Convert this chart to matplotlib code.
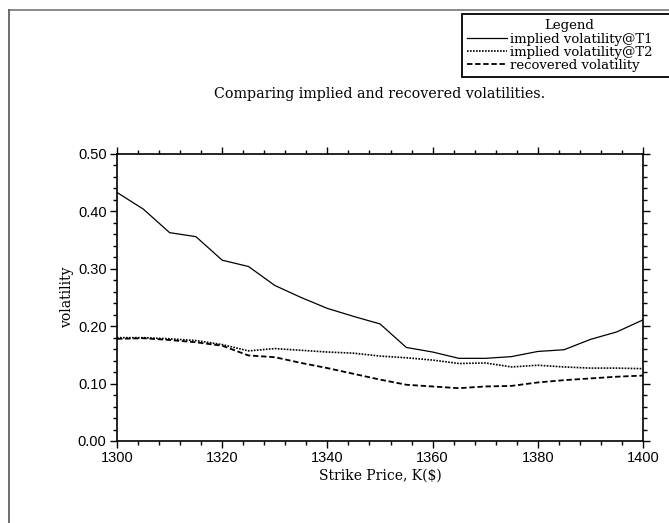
import matplotlib
matplotlib.use("Agg")
import matplotlib.pyplot as plt
from matplotlib.lines import Line2D
from matplotlib.ticker import MultipleLocator, FormatStrFormatter

strikes = [1300, 1305, 1310, 1315, 1320, 1325, 1330, 1335, 1340, 1345, 1350,
           1355, 1360, 1365, 1370, 1375, 1380, 1385, 1390, 1395, 1400]
implied_t1 = [0.433, 0.404, 0.363, 0.356, 0.315, 0.304, 0.271, 0.250, 0.231, 0.217, 0.204,
              0.163, 0.155, 0.144, 0.144, 0.147, 0.156, 0.159, 0.177, 0.190, 0.211]
implied_t2 = [0.180, 0.180, 0.178, 0.175, 0.168, 0.157, 0.161, 0.158, 0.155, 0.153, 0.148,
              0.145, 0.141, 0.135, 0.136, 0.129, 0.132, 0.129, 0.127, 0.127, 0.126]
recovered = [0.178, 0.179, 0.176, 0.172, 0.166, 0.149, 0.146, 0.136, 0.127, 0.117, 0.107,
             0.098, 0.095, 0.092, 0.095, 0.096, 0.102, 0.106, 0.109, 0.112, 0.114]

title = "Comparing implied and recovered volatilities."
xlabel = "Strike Price, K($)"
ylabel = "volatility"
labels = ["implied volatility@T1", "implied volatility@T2", "recovered volatility"]

W, H = 669, 523
fig = plt.figure(figsize=(W / 100, H / 100), dpi=100)
serif = "DejaVu Serif"
sans = "Liberation Sans"

# outer frame (gray)
fig.add_artist(Line2D([9 / W, 1.0], [1 - 10 / H, 1 - 10 / H], color="#777777", lw=1.2,
                      transform=fig.transFigure))
fig.add_artist(Line2D([9 / W, 9 / W], [1 - 10 / H, 0], color="#555555", lw=1.2,
                      transform=fig.transFigure))

ax = fig.add_axes([117 / W, 1 - 441 / H, (643 - 117) / W, (441 - 154) / H])
l1, = ax.plot(strikes, implied_t1, color="black", lw=0.9, linestyle="-")
l2, = ax.plot(strikes, implied_t2, color="black", lw=1.2, linestyle=(0, (1, 0.8)))
l3, = ax.plot(strikes, recovered, color="black", lw=1.3, linestyle=(0, (3, 1.5)))

ax.set_xlim(1300, 1400)
ax.set_ylim(0.0, 0.5)
ax.xaxis.set_major_locator(MultipleLocator(20))
ax.xaxis.set_minor_locator(MultipleLocator(4))
ax.yaxis.set_major_locator(MultipleLocator(0.1))
ax.yaxis.set_minor_locator(MultipleLocator(0.02))
ax.yaxis.set_major_formatter(FormatStrFormatter("%.2f"))
ax.tick_params(which="both", direction="out", top=True, right=True, width=1.0,
               labelsize=10.5)
ax.tick_params(which="major", length=5, pad=2.5)
ax.tick_params(which="minor", length=3)
for lab in ax.get_xticklabels() + ax.get_yticklabels():
    lab.set_fontfamily(sans)
for s in ax.spines.values():
    s.set_linewidth(1.2)

ax.set_xlabel(xlabel, fontfamily=serif, fontsize=10, labelpad=2)
ax.set_ylabel(ylabel, fontfamily=serif, fontsize=10, labelpad=3)

fig.text(380 / W, 1 - 94 / H, title, fontfamily=serif, fontsize=10.3,
         ha="center", va="center")

leg_top = 1 - 14 / H
leg_h = 67 / H
leg = fig.legend([l1, l2, l3], labels, loc="upper left",
                 bbox_to_anchor=(462 / W, leg_top - leg_h, (676 - 462) / W, leg_h),
                 bbox_transform=fig.transFigure, mode="expand",
                 title="Legend", frameon=True, fancybox=False, edgecolor="black",
                 prop={"family": serif, "size": 9.5}, handlelength=3.0,
                 handletextpad=0.25, borderpad=0.4, labelspacing=0.02,
                 borderaxespad=0, framealpha=1)
leg.get_title().set_fontfamily(serif)
leg.get_title().set_fontsize(9.5)
leg.get_frame().set_linewidth(1.3)

fig.savefig("out.png", dpi=100)
